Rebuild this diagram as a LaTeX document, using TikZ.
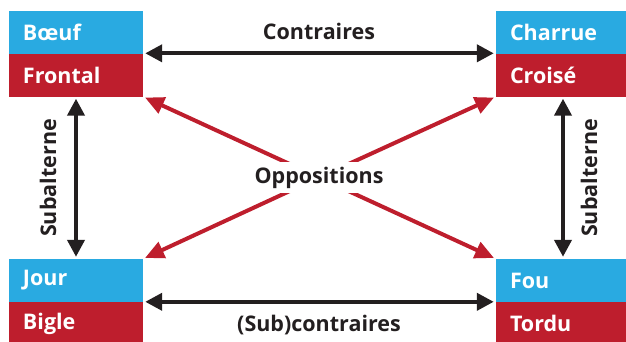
\documentclass[tikz,border=0pt]{standalone}
\usepackage{fontspec}
\setmainfont{Open Sans}
\usetikzlibrary{arrows.meta}
\definecolor{boxblue}{RGB}{41,170,225}
\definecolor{boxred}{RGB}{190,30,45}
\definecolor{arrblack}{RGB}{35,31,32}
\begin{document}
\begin{tikzpicture}[x=1pt,y=-1pt,
  box/.style={rectangle, minimum width=134pt, minimum height=43pt, inner sep=0pt, text=white, font=\bfseries\fontsize{21.5}{22}\selectfont, text width=106pt, align=left},
  bluebox/.style={box, fill=boxblue},
  redbox/.style={box, fill=boxred},
  link/.style={draw=arrblack, line width=4pt, {Triangle[length=17pt,width=17pt]}-{Triangle[length=17pt,width=17pt]}, shorten <=2pt, shorten >=2pt},
  oppo/.style={draw=boxred, line width=4pt, -{Triangle[length=19pt,width=17pt]}, shorten >=2pt},
  lbl/.style={text=arrblack, font=\bfseries\fontsize{21.5}{22}\selectfont}]
\useasboundingbox (0,0) rectangle (626,341);
% boxes
\node[bluebox] (boeuf) at (76,32) {Bœuf};
\node[redbox] (frontal) at (76,75) {Frontal};
\node[bluebox] (charrue) at (563,32) {Charrue};
\node[redbox] (croise) at (563,75) {Croisé};
\node[bluebox] (jour) at (76,280.5) {Jour};
\node[redbox] (bigle) at (76,323.5) {Bigle};
\node[bluebox] (fou) at (563,280.5) {Fou};
\node[redbox] (tordu) at (563,323.5) {Tordu};
% oppositions
\coordinate (mid) at (319,177.5);
\draw[oppo] (mid) -- (frontal.south east);
\draw[oppo] (mid) -- (croise.south west);
\draw[oppo] (mid) -- (jour.north east);
\draw[oppo] (mid) -- (fou.north west);
\node[lbl, fill=white, inner sep=5pt] (opp) at (mid) {Oppositions};
% contraires, subalterne
\draw[link] (frontal.north east) -- (croise.north west);
\draw[link] (bigle.north east) -- (tordu.north west);
\draw[link] (frontal.south) -- (jour.north);
\draw[link] (croise.south) -- (fou.north);
\node[lbl] (contr) at (319,31) {Contraires};
\node[lbl] (subcontr) at (319,325) {(Sub)contraires};
\node[lbl, rotate=90] (subl) at (48,178) {Subalterne};
\node[lbl, rotate=90] (subr) at (589,178) {Subalterne};
\end{tikzpicture}
\end{document}
